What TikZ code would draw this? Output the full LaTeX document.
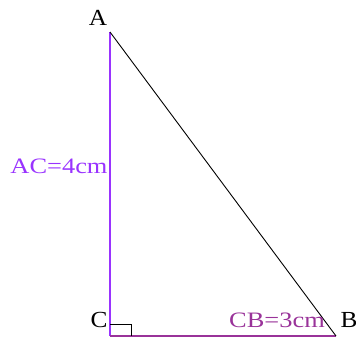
\documentclass[tikz,border=0pt]{standalone}
\usepackage{fontspec}
\setmainfont{Liberation Serif}
\definecolor{violetline}{HTML}{9933FF}
\definecolor{purpleline}{HTML}{993399}
\begin{document}
\begin{tikzpicture}[x=1pt,y=-1pt,
  vertex/.style={font=\fontsize{23}{23}\selectfont, inner sep=0pt, xscale=1.1},
  lbl/.style={font=\fontsize{22}{22}\selectfont, inner sep=0pt, xscale=1.2}]
\useasboundingbox (0,0) rectangle (356,343);
\coordinate (A) at (110,32);
\coordinate (C) at (110,336);
\coordinate (B) at (336,336);
\draw[violetline, line width=1.3pt] (A) -- (C);
\draw[purpleline, line width=1.3pt] (C) -- (B);
\draw[black, line width=0.9pt] (A) -- (B);
\draw[black, line width=0.9pt] (110,324) -- (131,324) -- (131,336);
\node[vertex] (la) at (98,17.5) {A};
\node[vertex] (lc) at (99,320) {C};
\node[vertex] (lb) at (349,320) {B};
\node[lbl, text=violetline] (ac) at (59,166.5) {AC=4cm};
\node[lbl, text=purpleline] (cb) at (277,320) {CB=3cm};
\end{tikzpicture}
\end{document}
